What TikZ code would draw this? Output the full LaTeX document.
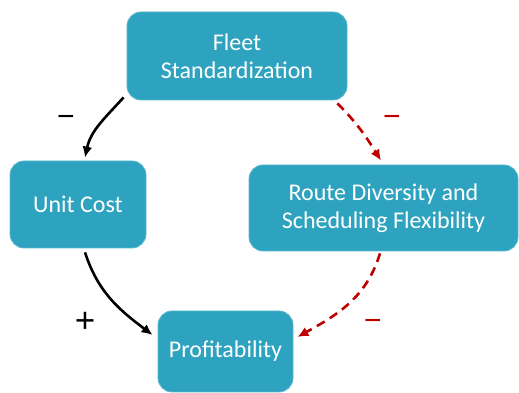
\documentclass[tikz,border=0pt]{standalone}
\usepackage{fontspec}
\setmainfont{Carlito}
\newfontfamily\signfont{Liberation Sans}
\usetikzlibrary{arrows.meta,calc}
\definecolor{boxfill}{HTML}{2EA3BF}
\definecolor{boxline}{HTML}{5BB8CF}
\definecolor{negred}{HTML}{C00000}
\begin{document}
\begin{tikzpicture}[x=1pt,y=1pt,
  box/.style={draw=boxline, line width=0.8pt, fill=boxfill, rounded corners=14pt,
    text=white, align=center, font=\fontsize{24}{28}\selectfont, inner sep=0pt},
  link/.style={line width=2.6pt, -{Latex[length=11pt,width=10pt]}},
  neglink/.style={link, negred, dash pattern=on 9pt off 6pt},
  sign/.style={font=\signfont\fontsize{30}{30}\selectfont, inner sep=0pt}]
\useasboundingbox (0,0) rectangle (519,393);
\node[box, minimum width=220pt, minimum height=88pt] (fleet) at (237,337) {Fleet\\Standardization};
\node[box, minimum width=136pt, minimum height=87pt] (unit) at (78,188.5) {Unit Cost};
\node[box, minimum width=269pt, minimum height=86pt] (route) at (383.5,185) {Route Diversity and\\Scheduling Flexibility};
\node[box, minimum width=135pt, minimum height=81pt] (profit) at (225.5,41.5) {Profitability};
% causal links
\draw[link] ($(fleet.south west)+(-3,3)$) to[out=228,in=78] ($(unit.north)+(7,3)$);
\draw[link] ($(unit.south)+(7,-4)$) to[out=288,in=143] ($(profit.west)+(-5,16.5)$);
\draw[neglink] ($(fleet.south east)+(-10,-3)$) to[out=315,in=122] ($(route.north)+(-2.5,4)$);
\draw[neglink] ($(route.south)+(-3.5,-2)$) to[out=253,in=29] ($(profit.east)+(4,14.5)$);
% polarity signs
\node[sign] (s1) at (66,272) {−};
\node[sign, font=\signfont\fontsize{35}{35}\selectfont] (s2) at (85,71) {+};
\node[sign, text=negred] (s3) at (392,272) {−};
\node[sign, text=negred] (s4) at (373,68) {−};
\end{tikzpicture}
\end{document}
